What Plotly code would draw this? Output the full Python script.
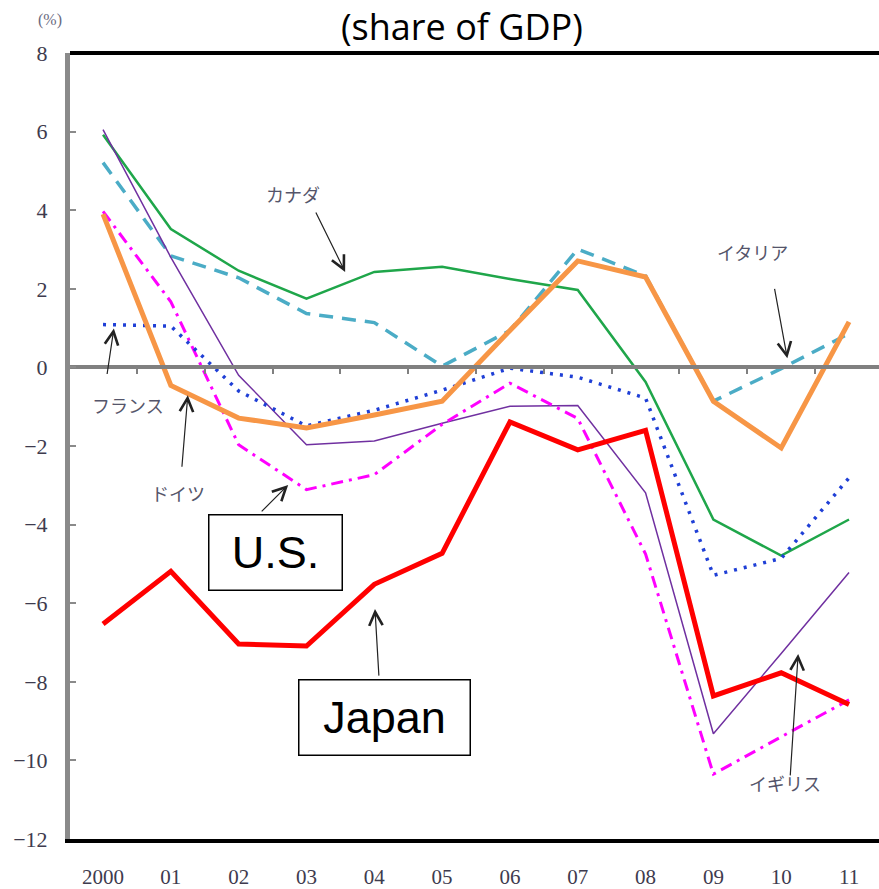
import plotly.graph_objects as go

# Fiscal balance by country, share of GDP (%)
years = ["2000", "01", "02", "03", "04", "05", "06", "07", "08", "09", "10", "11"]

italy = [5.21, 2.84, 2.28, 1.37, 1.14, 0.03, 0.94, 3.01, 2.33, -0.86, -0.03, 0.86]
canada = [5.92, 3.52, 2.46, 1.75, 2.43, 2.56, 2.25, 1.97, -0.37, -3.87, -4.79, -3.87]
uk = [6.05, 2.80, -0.20, -1.97, -1.87, -1.42, -0.99, -0.97, -3.19, -9.32, -7.28, -5.22]
us = [3.97, 1.67, -1.97, -3.11, -2.73, -1.45, -0.40, -1.30, -4.75, -10.35, -9.40, -8.46]
france = [1.09, 1.05, -0.60, -1.49, -1.09, -0.58, -0.02, -0.25, -0.78, -5.29, -4.86, -2.81]
germany = [3.90, -0.46, -1.29, -1.54, -1.21, -0.86, 0.94, 2.71, 2.30, -0.86, -2.05, 1.16]
japan = [-6.53, -5.19, -7.04, -7.09, -5.52, -4.73, -1.39, -2.10, -1.60, -8.36, -7.77, -8.58]

y_ticks = list(range(-12, 9, 2))

series = [
    (italy, dict(color="#4bacc6", width=3.5, dash="14px,9px")),
    (canada, dict(color="#1fa64a", width=2.5)),
    (uk, dict(color="#7030a0", width=1.5)),
    (us, dict(color="#ff00ff", width=3, dash="12px,6px,3px,6px")),
    (france, dict(color="#1f3fd6", width=3.5, dash="3px,7px")),
    (germany, dict(color="#f79646", width=5)),
    (japan, dict(color="#ff0000", width=5)),
]

fig = go.Figure()
for vals, line in series:
    fig.add_trace(go.Scatter(x=years, y=vals, mode="lines", line=line,
                             showlegend=False, hoverinfo="skip"))

# helper axis carrying the zero line with its small downward ticks
fig.add_trace(go.Scatter(x=[None], y=[None], xaxis="x2", showlegend=False,
                         hoverinfo="skip"))

x_range = [-0.487, 11.442]
half_ticks = [i + 0.5 for i in range(len(years) - 1)]
zero_pos = (0 - y_ticks[0]) / (y_ticks[-1] - y_ticks[0])

serif = "Liberation Serif"
label_color = "#3e3b4e"
jp_font = dict(family="Noto Sans CJK JP", size=18, color="#55556a")

annotations = []

# title and unit
annotations.append(dict(text="(share of GDP)", xref="paper", yref="paper",
                        x=0.4845, y=1.034, xanchor="center", yanchor="middle",
                        showarrow=False,
                        font=dict(family="Open Sans", size=36, color="black")))
annotations.append(dict(text="(%)", xref="paper", yref="paper",
                        x=-0.0247, y=1.042, xanchor="center", yanchor="middle",
                        showarrow=False,
                        font=dict(family=serif, size=16, color="#6a6a80")))

# country labels
for txt, x, y in [("カナダ", 2.80, 4.41), ("イタリア", 9.57, 2.94),
                  ("フランス", 0.37, -0.96), ("ドイツ", 1.11, -3.19),
                  ("イギリス", 10.06, -10.58)]:
    annotations.append(dict(text=txt, x=x, y=y, xref="x", yref="y",
                            showarrow=False, font=jp_font))

# boxed labels
for txt, x, y, w in [("U.S.", 2.536, -4.70, 132), ("Japan", 4.143, -8.91, 170)]:
    annotations.append(dict(text=txt, x=x, y=y, xref="x", yref="y",
                            showarrow=False, width=w, height=74,
                            bordercolor="black", borderwidth=1.5, borderpad=0,
                            bgcolor="white",
                            font=dict(family="Liberation Sans", size=45,
                                      color="black")))

# pointer arrows
for x, y, ax, ay in [(3.57, 2.43, -30, -61), (10.09, 0.23, -13, -71),
                     (0.16, 0.99, -7, 47), (1.25, -0.71, -6, 73),
                     (2.73, -2.99, -28, 28), (4.01, -6.15, 4, 68),
                     (10.25, -7.29, -8, 123)]:
    annotations.append(dict(text="", x=x, y=y, xref="x", yref="y",
                            ax=ax, ay=ay, showarrow=True, arrowhead=5,
                            arrowsize=2.2, arrowwidth=1.2, arrowcolor="#222222"))

fig.update_layout(
    width=879, height=889,
    margin=dict(l=70, r=0, t=53, b=46),
    paper_bgcolor="white", plot_bgcolor="white",
    xaxis=dict(range=x_range, showgrid=False, zeroline=False,
               showline=True, linecolor="black", linewidth=4,
               ticks="", ticklabelstandoff=16,
               tickfont=dict(family=serif, size=21, color=label_color)),
    xaxis2=dict(overlaying="x", anchor="free", position=zero_pos,
                range=x_range, showgrid=False, zeroline=False,
                showline=True, linecolor="#808080", linewidth=3.5,
                tickmode="array", tickvals=half_ticks, ticks="outside",
                ticklen=5, tickwidth=1.5, tickcolor="#808080",
                showticklabels=False),
    yaxis=dict(range=[y_ticks[0], y_ticks[-1]], tickvals=y_ticks,
               showgrid=False, zeroline=False,
               showline=True, linecolor="#8a8a8a", linewidth=5,
               ticks="inside", ticklen=6, tickwidth=1.5, tickcolor="#8a8a8a",
               ticklabelstandoff=13,
               tickfont=dict(family=serif, size=22, color=label_color)),
    shapes=[dict(type="line", xref="paper", yref="paper", x0=0, x1=1,
                 y0=1, y1=1, line=dict(color="black", width=4))],
    annotations=annotations,
)

fig.write_html("out.html")
